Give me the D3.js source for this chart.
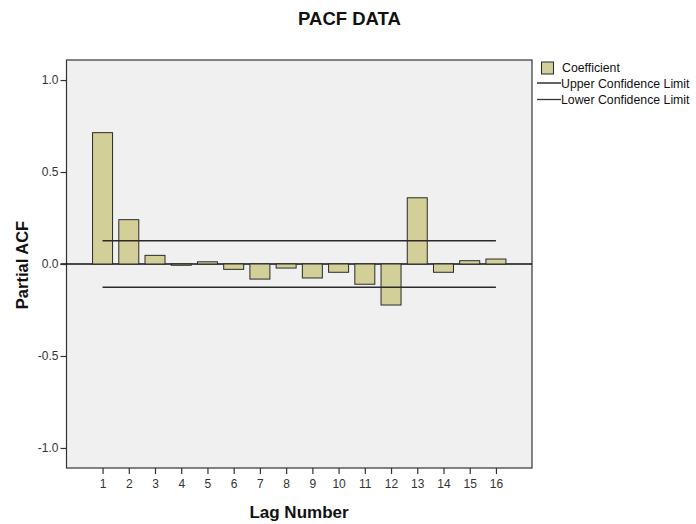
<!DOCTYPE html>
<html><head><meta charset="utf-8">
<script src="https://cdn.jsdelivr.net/npm/d3@7"></script>
<style>body{margin:0;background:#fff;} text{font-family:"Liberation Sans",Arial,sans-serif;}</style>
</head><body>
<svg id="c" width="696" height="524"></svg>
<script>
const lags = [1,2,3,4,5,6,7,8,9,10,11,12,13,14,15,16];
const coefficients = [0.714,0.241,0.047,-0.007,0.012,-0.029,-0.082,-0.022,-0.076,-0.045,-0.110,-0.223,0.360,-0.045,0.018,0.027];
const upperLimit = [0.126,0.126,0.126,0.126,0.126,0.126,0.126,0.126,0.126,0.126,0.126,0.126,0.126,0.126,0.126,0.126];
const lowerLimit = [-0.126,-0.126,-0.126,-0.126,-0.126,-0.126,-0.126,-0.126,-0.126,-0.126,-0.126,-0.126,-0.126,-0.126,-0.126,-0.126];
const yTicks = [-1.0,-0.5,0.0,0.5,1.0];
const yTickLabels = ["-1.0","-0.5","0.0","0.5","1.0"];
const legendLabels = ["Coefficient","Upper Confidence Limit","Lower Confidence Limit"];

const svg = d3.select("#c");
const L = 66.5, R = 532, T = 60, B = 468;
const x = d3.scaleLinear().domain([1-1.375, 16+1.375]).range([L, R]);
const y = d3.scaleLinear().domain([-1.109, 1.109]).range([B, T]);
const barW = 20;

svg.append("rect").attr("x",L).attr("y",T).attr("width",R-L).attr("height",B-T)
  .attr("fill","#f0f0f0").attr("stroke","#333").attr("stroke-width",1.2);

// zero line
svg.append("line").attr("x1",L-6).attr("x2",R).attr("y1",y(0)).attr("y2",y(0))
  .attr("stroke","#111").attr("stroke-width",1.3);

// bars
svg.append("g").selectAll("rect").data(lags).join("rect")
  .attr("x",(d)=>x(d)-barW/2).attr("width",barW)
  .attr("y",(d,i)=>y(Math.max(0,coefficients[i])))
  .attr("height",(d,i)=>Math.abs(y(coefficients[i])-y(0)))
  .attr("fill","#d3cf98").attr("stroke","#2a2a2a").attr("stroke-width",1);

// confidence lines
const line = d3.line().x((d)=>x(d[0])).y((d)=>y(d[1]));
svg.append("path").attr("d",line(lags.map((l,i)=>[l,upperLimit[i]])))
  .attr("fill","none").attr("stroke","#2a2a2a").attr("stroke-width",1.4);
svg.append("path").attr("d",line(lags.map((l,i)=>[l,lowerLimit[i]])))
  .attr("fill","none").attr("stroke","#2a2a2a").attr("stroke-width",1.4);

// y axis
const ya = svg.append("g").attr("transform",`translate(${L},0)`)
  .call(d3.axisLeft(y).tickValues(yTicks).tickFormat((d,i)=>yTickLabels[i]).tickSize(6).tickPadding(2));
ya.select(".domain").remove();
ya.selectAll("line").attr("stroke","#333").attr("stroke-width",1.2);
ya.selectAll("text").attr("font-size","12px").attr("fill","#333").attr("font-family","Liberation Sans, Arial, sans-serif");

// x axis
const xa = svg.append("g").attr("transform",`translate(0,${B})`)
  .call(d3.axisBottom(x).tickValues(lags).tickFormat(d3.format("d")).tickSize(6).tickPadding(5));
xa.select(".domain").remove();
xa.selectAll("line").attr("stroke","#333").attr("stroke-width",1.2);
xa.selectAll("text").attr("font-size","12px").attr("fill","#333").attr("font-family","Liberation Sans, Arial, sans-serif");

// titles
svg.append("text").attr("x",349.5).attr("y",25).attr("text-anchor","middle")
  .attr("font-size","18.5px").attr("font-weight","bold").attr("fill","#111").text("PACF DATA");
svg.append("text").attr("x",299).attr("y",517.5).attr("text-anchor","middle")
  .attr("font-size","17px").attr("font-weight","bold").attr("fill","#111").text("Lag Number");
svg.append("text").attr("transform","translate(28,265) rotate(-90)").attr("text-anchor","middle")
  .attr("font-size","16.5px").attr("font-weight","bold").attr("fill","#111").text("Partial ACF");

// legend
const lg = svg.append("g");
lg.append("rect").attr("x",541.5).attr("y",62).attr("width",12).attr("height",12)
  .attr("fill","#d3cf98").attr("stroke","#2a2a2a").attr("stroke-width",1);
lg.append("line").attr("x1",537).attr("x2",561).attr("y1",83).attr("y2",83).attr("stroke","#111").attr("stroke-width",1.3);
lg.append("line").attr("x1",537).attr("x2",561).attr("y1",99.5).attr("y2",99.5).attr("stroke","#333").attr("stroke-width",1.3);
lg.selectAll("text.l").data(legendLabels).join("text").attr("class","l")
  .attr("x",(d,i)=>i===0?562:561).attr("y",(d,i)=>[72,87.5,104][i])
  .attr("font-size","12.3px").attr("fill","#111").text((d)=>d);
</script>
</body></html>
